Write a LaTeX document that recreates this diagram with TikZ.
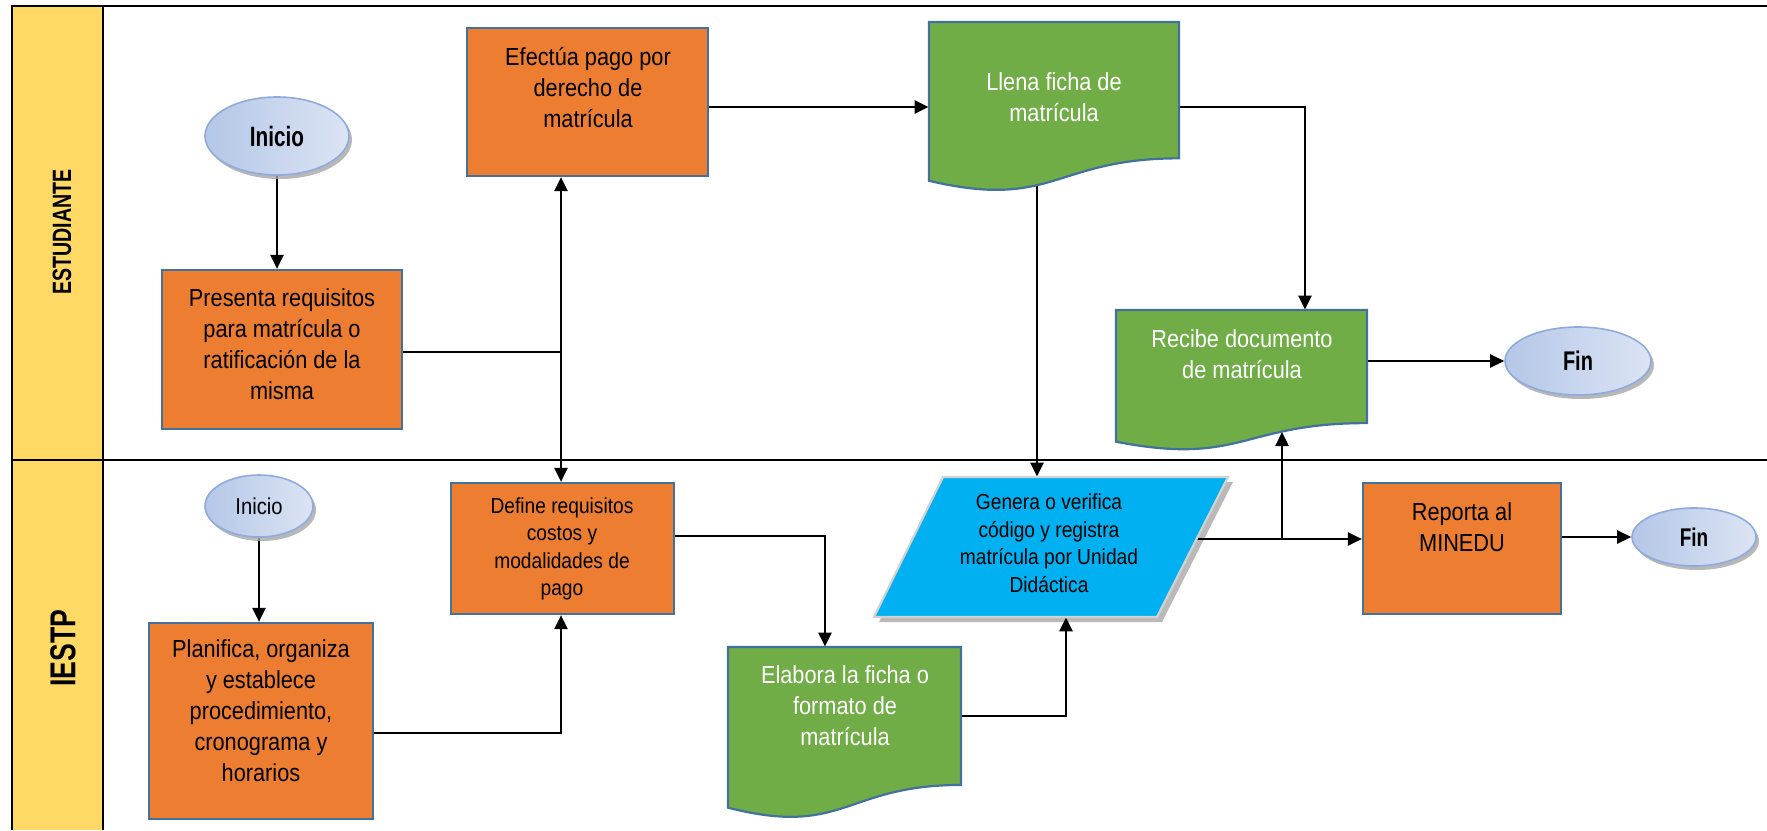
\documentclass[tikz,border=0pt]{standalone}
\usepackage{fontspec}
\setmainfont{Liberation Sans}[FakeStretch=0.88]
\newfontfamily\hdrfont{Liberation Sans}[FakeStretch=0.74]
\usetikzlibrary{arrows.meta,backgrounds,shadows,shapes.geometric}
\definecolor{laneyellow}{HTML}{FFD966}
\definecolor{procorange}{HTML}{ED7D31}
\definecolor{docgreen}{HTML}{70AD47}
\definecolor{boxborder}{HTML}{41719C}
\definecolor{paracyan}{HTML}{00B0F0}
\definecolor{elldark}{HTML}{B4C7E7}
\definecolor{elllight}{HTML}{DCE4F4}
\definecolor{ellborder}{HTML}{8FAADC}
\newcommand{\mydoc}[4]{\draw[docst] (#1,#2) -- (#3,#2) -- (#3,{#2+0.802*#4}) .. controls ({(#1+#3)/2},{#2+0.802*#4}) and ({(#1+#3)/2},{#2+1.1075*#4}) .. (#1,{#2+0.934*#4}) -- cycle;}
\tikzset{
  proc/.style={draw=boxborder, line width=1.1pt, fill=procorange, inner sep=0pt},
  docst/.style={draw=boxborder, line width=1.1pt, fill=docgreen},
  para/.style={draw=gray!35, line width=1.1pt, fill=paracyan},
  ghost/.style={inner sep=0pt},
  txt/.style={align=center, inner sep=0pt, font=\fontsize{12.35}{15.5}\selectfont},
  stxt/.style={align=center, inner sep=0pt, font=\fontsize{10.9}{13.75}\selectfont},
  wtxt/.style={txt, text=white},
  term/.style={ellipse, draw=ellborder, line width=0.8pt, left color=elldark, right color=elllight,
    inner sep=0pt, drop shadow={shadow xshift=1.5pt, shadow yshift=-2pt, fill=gray!70, opacity=0.8}},
  bterm/.style={term, font=\hdrfont\bfseries\fontsize{#1}{16}\selectfont},
  lanelbl/.style={rotate=90, inner sep=0pt, font=\hdrfont\bfseries\fontsize{#1}{20}\selectfont},
  lane/.style={line width=1.3pt},
  ln/.style={line width=1.2pt},
  arr/.style={line width=1.2pt, -{Triangle[length=7pt,width=6.5pt]}}
}
\begin{document}
\begin{tikzpicture}[x=0.5pt,y=-0.5pt]
\useasboundingbox (0,0) rectangle (1767,830);

% terminals
\node[bterm=14, minimum width=72pt, minimum height=39pt] (ini1) at (277,136) {Inicio};
\node[term, minimum width=54pt, minimum height=31pt, font=\fontsize{11.5}{13}\selectfont] (ini2) at (259,506) {Inicio};
\node[bterm=13.5, minimum width=73pt, minimum height=34pt] (fin1) at (1578,361) {Fin};
\node[bterm=12.8, minimum width=62pt, minimum height=29pt] (fin2) at (1694,537) {Fin};

% process boxes
\node[proc, minimum width=120pt, minimum height=79.5pt] (pres) at (282,349.5) {};
\node[proc, minimum width=120.5pt, minimum height=74pt] (efe) at (587.5,102) {};
\node[proc, minimum width=111.5pt, minimum height=65.5pt] (def) at (562.5,548.5) {};
\node[proc, minimum width=112pt, minimum height=98pt] (plan) at (261,721) {};
\node[proc, minimum width=99pt, minimum height=65.5pt] (rep) at (1462,548.5) {};

% documents
\mydoc{929}{22}{1179}{170}
\node[ghost, minimum width=125pt, minimum height=68pt] (llena) at (1054,90) {};
\mydoc{1116}{310}{1367}{141}
\node[ghost, minimum width=125.5pt, minimum height=56.5pt] (rec) at (1241.5,366.5) {};
\mydoc{728}{647}{961}{172}
\node[ghost, minimum width=116.5pt, minimum height=69pt] (ela) at (844.5,716) {};

% data (parallelogram)
\filldraw[para] (943,477) -- (1228,477) -- (1157,617) -- (874,617) -- cycle;
\node[ghost, minimum width=177pt, minimum height=70pt] (gen) at (1051,547) {};

% texts
\node[txt] (tpres) at (282,344) {Presenta requisitos\\para matrícula o\\ratificación de la\\misma};
\node[txt] (tefe) at (588,88) {Efectúa pago por\\derecho de\\matrícula};
\node[stxt] (tdef) at (562,549) {Define requisitos\\costos y\\modalidades de\\pago};
\node[txt] (tplan) at (261,711) {Planifica, organiza\\y establece\\procedimiento,\\cronograma y\\horarios};
\node[wtxt] (tela) at (845,706) {Elabora la ficha o\\formato de\\matrícula};
\node[stxt] (tgen) at (1049,543) {Genera o verifica\\código y registra\\matrícula por Unidad\\Didáctica};
\node[wtxt] (tllena) at (1054,97) {Llena ficha de\\matrícula};
\node[wtxt] (trec) at (1242,354) {Recibe documento\\de matrícula};
\node[txt] (trep) at (1462,527) {Reporta al\\MINEDU};

% lane labels
\node[lanelbl=13.25] (lab1) at (62,232) {ESTUDIANTE};
\node[lanelbl=18] (lab2) at (63,648) {IESTP};

% junction coordinates
\coordinate (j1) at (561,352);
\coordinate (j3) at (0,107);
\coordinate (j4) at (1305,107);
\coordinate (j5) at (1037,0);
\coordinate (j8) at (561,733);
\coordinate (j9) at (825,536);
\coordinate (j10) at (1066,716);
\coordinate (j11) at (1282,539);
\coordinate (recb) at (1282,432);

\begin{pgfonlayer}{background}
  % lanes
  \fill[laneyellow] (12,6) rectangle (103,830);
  \draw[lane] (1767,6) -- (12,6) -- (12,830);
  \draw[lane] (103,6) -- (103,830);
  \draw[lane] (12,460) -- (1767,460);
  % parallelogram shadow
  \fill[gray!55] (948,482) -- (1233,482) -- (1162,622) -- (879,622) -- cycle;
  % connectors
  \draw[arr] (ini1.south) -- (ini1.south |- pres.north);
  \draw[ln] (pres.east |- j1) -- (j1);
  \draw[arr] (j1) -- (j1 |- efe.south);
  \draw[arr] (j1) -- (j1 |- def.north);
  \draw[arr] (efe.east |- j3) -- (llena.west |- j3);
  \draw[arr] (llena.east |- j4) -- (j4) -- (j4 |- rec.north);
  \draw[arr] (j5 |- llena.south) -- (j5 |- gen.north);
  \draw[arr] (rec.east |- fin1.west) -- (fin1.west);
  \draw[arr] (ini2.south) -- (ini2.south |- plan.north);
  \draw[arr] (plan.east |- j8) -- (j8) -- (j8 |- def.south);
  \draw[arr] (def.east |- j9) -- (j9) -- (j9 |- ela.north);
  \draw[arr] (ela.east |- j10) -- (j10) -- (j10 |- gen.south);
  \draw[arr] (gen.center |- j11) -- (rep.west |- j11);
  \draw[arr] (j11) -- (recb);
  \draw[arr] (rep.east |- fin2.west) -- (fin2.west);
\end{pgfonlayer}
\end{tikzpicture}
\end{document}
